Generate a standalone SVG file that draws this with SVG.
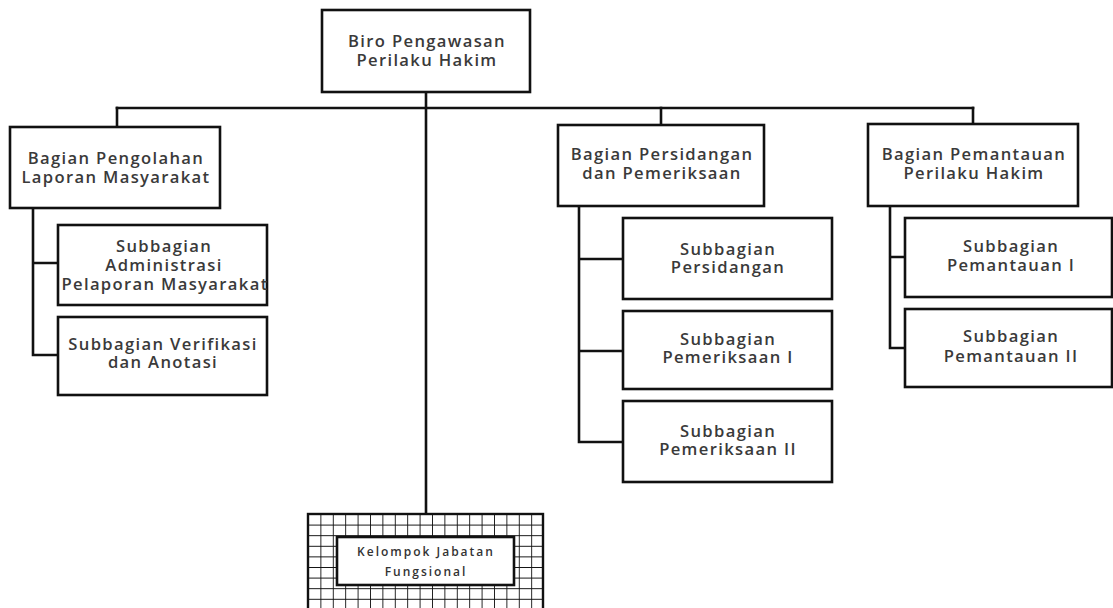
<svg xmlns="http://www.w3.org/2000/svg" width="1113" height="608" viewBox="0 0 1113 608">
<style>
.box{fill:#fff;stroke:#111;stroke-width:2.6}
.ln{fill:none;stroke:#111;stroke-width:2.6;stroke-linecap:square}
.t{font-family:"Open Sans","Liberation Sans",sans-serif;font-size:16.6px;letter-spacing:1.35px;font-weight:600;fill:#3a3a3a;text-anchor:middle}
.s{font-family:"Open Sans","Liberation Sans",sans-serif;font-size:12px;letter-spacing:2px;font-weight:600;fill:#333;text-anchor:middle}
</style>
<defs>
<pattern id="grid" x="308" y="514" width="12.4" height="10.6" patternUnits="userSpaceOnUse">
<rect width="12.4" height="10.6" fill="#fff"/>
<path d="M0 0V10.6M0 0H12.4" stroke="#111" stroke-width="1.8" fill="none"/>
</pattern>
</defs>
<rect width="1113" height="608" fill="#fff"/>
<g id="connectors">
<path class="ln" d="M117 108H973"/>
<path class="ln" d="M426 92V514"/>
<path class="ln" d="M117 108V127"/>
<path class="ln" d="M661 108V125"/>
<path class="ln" d="M973 108V124"/>
<path class="ln" d="M33 208V355H58M33 263H58"/>
<path class="ln" d="M579 206V442H623M579 259H623M579 351H623"/>
<path class="ln" d="M890 206V348H905M890 257H905"/>
</g>
<g id="biro">
<rect class="box" x="322" y="10" width="208" height="82"/>
<text class="t" x="427" y="47">Biro Pengawasan</text>
<text class="t" x="427" y="66">Perilaku Hakim</text>
</g>
<g id="bagian-pengolahan">
<rect class="box" x="10" y="127" width="210" height="81"/>
<text class="t" x="116" y="164">Bagian Pengolahan</text>
<text class="t" x="116" y="183">Laporan Masyarakat</text>
</g>
<g id="sub-administrasi">
<rect class="box" x="58" y="225" width="209" height="80"/>
<text class="t" x="164" y="252">Subbagian</text>
<text class="t" x="164" y="271">Administrasi</text>
<text class="t" x="165" y="290">Pelaporan Masyarakat</text>
</g>
<g id="sub-verifikasi">
<rect class="box" x="58" y="317" width="209" height="78"/>
<text class="t" x="163" y="350">Subbagian Verifikasi</text>
<text class="t" x="163" y="368">dan Anotasi</text>
</g>
<g id="bagian-persidangan">
<rect class="box" x="558" y="125" width="206" height="81"/>
<text class="t" x="662" y="160">Bagian Persidangan</text>
<text class="t" x="662" y="179">dan Pemeriksaan</text>
</g>
<g id="sub-persidangan">
<rect class="box" x="623" y="218" width="209" height="81"/>
<text class="t" x="728" y="255">Subbagian</text>
<text class="t" x="728" y="273">Persidangan</text>
</g>
<g id="sub-pemeriksaan-1">
<rect class="box" x="623" y="311" width="209" height="78"/>
<text class="t" x="728" y="345">Subbagian</text>
<text class="t" x="728" y="363">Pemeriksaan I</text>
</g>
<g id="sub-pemeriksaan-2">
<rect class="box" x="623" y="401" width="209" height="81"/>
<text class="t" x="728" y="437">Subbagian</text>
<text class="t" x="728" y="455">Pemeriksaan II</text>
</g>
<g id="bagian-pemantauan">
<rect class="box" x="868" y="124" width="210" height="82"/>
<text class="t" x="974" y="160">Bagian Pemantauan</text>
<text class="t" x="974" y="179">Perilaku Hakim</text>
</g>
<g id="sub-pemantauan-1">
<rect class="box" x="905" y="218" width="207" height="79"/>
<text class="t" x="1011" y="252">Subbagian</text>
<text class="t" x="1011" y="271">Pemantauan I</text>
</g>
<g id="sub-pemantauan-2">
<rect class="box" x="905" y="309" width="207" height="78"/>
<text class="t" x="1011" y="342">Subbagian</text>
<text class="t" x="1011" y="362">Pemantauan II</text>
</g>
<g id="kelompok-jabatan">
<rect x="308" y="514" width="235" height="100" fill="url(#grid)" stroke="#111" stroke-width="2.4"/>
<rect class="box" x="337" y="537" width="177" height="48"/>
<text class="s" x="426" y="556">Kelompok Jabatan</text>
<text class="s" x="426" y="576">Fungsional</text>
</g>
</svg>
